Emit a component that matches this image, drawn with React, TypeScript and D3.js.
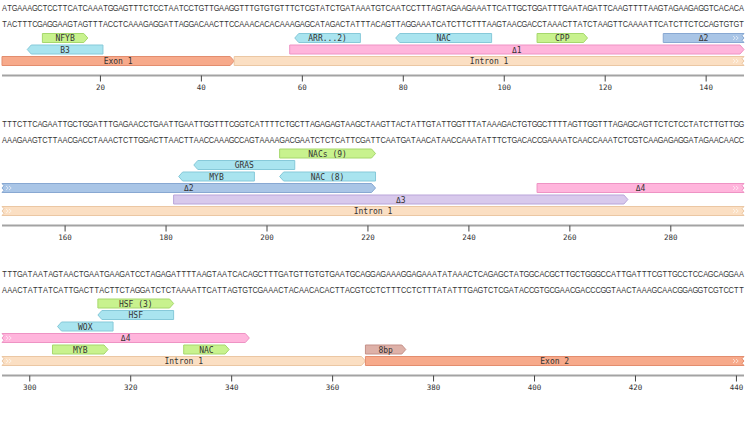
import React from 'react';
import * as d3 from 'd3';

// ---- data ----
const ROW_STARTS = [1, 148, 295];
const ROW_LEN = 147;
const SEQ_ROWS = [
  'ATGAAAGCTCCTTCATCAAATGGAGTTTCTCCTAATCCTGTTGAAGGTTTGTGTGTTTCTCGTATCTGATAAATGTCAATCCTTTAGTAGAAGAAATTCATTGCTGGATTTGAATAGATTCAAGTTTTAAGTAGAAGAGGTCACACA',
  'TTTCTTCAGAATTGCTGGATTTGAGAACCTGAATTGAATTGGTTTCGGTCATTTTCTGCTTAGAGAGTAAGCTAAGTTACTATTGTATTGGTTTATAAAGACTGTGGCTTTTAGTTGGTTTAGAGCAGTTCTCTCCTATCTTGTTGG',
  'TTTGATAATAGTAACTGAATGAAGATCCTAGAGATTTTAAGTAATCACAGCTTTGATGTTGTGTGAATGCAGGAGAAAGGAGAAATATAAACTCAGAGCTATGGCACGCTTGCTGGGCCATTGATTTCGTTGCCTCCAGCAGGAA',
];
const TICKS = [20, 40, 60, 80, 100, 120, 140, 160, 180, 200, 220, 240, 260, 280, 300, 320, 340, 360, 380, 400, 420, 440];

// id, label, start, end, strand, kind
const FEATURES: [string, string, number, number, number, string][] = [
  ['exon1', 'Exon 1', 1, 46, 1, 'exon'],
  ['intron1', 'Intron 1', 47, 366, 1, 'intron'],
  ['exon2', 'Exon 2', 367, 441, 1, 'exon'],
  ['bp8', '8bp', 367, 374, 1, 'misc'],
  ['nfyb', 'NFYB', 9, 17, 1, 'tfPlus'],
  ['b3', 'B3', 6, 20, -1, 'tfMinus'],
  ['arr', 'ARR...2)', 59, 71, -1, 'tfMinus'],
  ['nac1', 'NAC', 79, 97, -1, 'tfMinus'],
  ['cpp', 'CPP', 107, 116, 1, 'tfPlus'],
  ['d1', 'Δ1', 58, 147, 1, 'delPink'],
  ['d2', 'Δ2', 132, 221, 1, 'delBlue'],
  ['nacs9', 'NACs (9)', 203, 221, 1, 'tfPlus'],
  ['gras', 'GRAS', 186, 205, -1, 'tfMinus'],
  ['myb1', 'MYB', 183, 197, -1, 'tfMinus'],
  ['nac8', 'NAC (8)', 203, 221, -1, 'tfMinus'],
  ['d3', 'Δ3', 182, 271, 1, 'delPurple'],
  ['d4', 'Δ4', 254, 343, 1, 'delPink'],
  ['hsf3', 'HSF (3)', 314, 328, 1, 'tfPlus'],
  ['hsf', 'HSF', 314, 328, -1, 'tfMinus'],
  ['wox', 'WOX', 306, 316, -1, 'tfMinus'],
  ['myb2', 'MYB', 305, 315, 1, 'tfPlus'],
  ['nac2', 'NAC', 331, 339, 1, 'tfPlus'],
];
const OPEN_END = ['exon2'];

// ---- layout ----
const LANES: Record<string, (number | null)[]> = {
  nfyb: [0, null, null], arr: [0, null, null], nac1: [0, null, null], cpp: [0, null, null],
  d2: [0, 3, null], b3: [1, null, null], d1: [1, null, null],
  exon1: [2, null, null], intron1: [2, 5, 5],
  nacs9: [null, 0, null], gras: [null, 1, null], myb1: [null, 2, null], nac8: [null, 2, null],
  d4: [null, 3, 3], d3: [null, 4, null],
  hsf3: [null, null, 0], hsf: [null, null, 1], wox: [null, null, 2],
  myb2: [null, null, 4], nac2: [null, null, 4], bp8: [null, null, 4], exon2: [null, null, 5],
};
const ROW_LANES = [3, 6, 6];
const STYLES: Record<string, { fill: string; stroke: string }> = {
  exon: { fill: '#f7aa8b', stroke: '#e38d6e' },
  intron: { fill: '#fbdfc3', stroke: '#ebc7a3' },
  misc: { fill: '#deb1a8', stroke: '#c49088' },
  tfPlus: { fill: '#c8f28e', stroke: '#a6d86c' },
  tfMinus: { fill: '#a9e4ef', stroke: '#86c9d9' },
  delPink: { fill: '#ffb5dc', stroke: '#ee93c4' },
  delBlue: { fill: '#a9c5e6', stroke: '#88a8d2' },
  delPurple: { fill: '#d8c9ec', stroke: '#b9a5d9' },
};

const W = 749, H = 429;
const X0 = 2, X1 = 744;
const LANE0 = 30, LANE_STEP = 11.5, FH = 9, AW = 4;
const MONO = '"DejaVu Sans Mono", monospace';
const SEQ_SX = 0.78;

const COMP: Record<string, string> = { A: 'T', T: 'A', G: 'C', C: 'G' };
const complement = (s: string) => s.split('').map((c) => COMP[c] || c).join('');

function featurePath(x0: number, x1: number, yc: number, strand: number, cutL: boolean, cutR: boolean) {
  const t = yc - FH / 2, b = yc + FH / 2;
  const p = d3.path();
  if (cutL) {
    p.moveTo(x0, b);
    p.lineTo(x0 + 2, b - 2.25);
    p.lineTo(x0, yc);
    p.lineTo(x0 + 2, t + 2.25);
    p.lineTo(x0, t);
  } else if (strand < 0) {
    p.moveTo(x0 + AW, b);
    p.lineTo(x0, yc);
    p.lineTo(x0 + AW, t);
  } else {
    p.moveTo(x0, b);
    p.lineTo(x0, t);
  }
  if (cutR) {
    p.lineTo(x1, t);
    p.lineTo(x1 - 2, t + 2.25);
    p.lineTo(x1, yc);
    p.lineTo(x1 - 2, b - 2.25);
    p.lineTo(x1, b);
  } else if (strand > 0) {
    p.lineTo(x1 - AW, t);
    p.lineTo(x1, yc);
    p.lineTo(x1 - AW, b);
  } else {
    p.lineTo(x1, t);
    p.lineTo(x1, b);
  }
  p.closePath();
  return p.toString();
}

function chevrons(x: number, yc: number) {
  const p = d3.path();
  for (const dx of [0, 3]) {
    p.moveTo(x + dx, yc - 2);
    p.lineTo(x + dx + 2.2, yc);
    p.lineTo(x + dx, yc + 2);
  }
  return p.toString();
}

function SeqLine({ seq, y, x }: { seq: string; y: number; x: d3.ScaleLinear<number, number> }) {
  // glyph centres follow the base scale; stretched evenly over the row
  const n = seq.length;
  const step = ROW_LEN / n;
  const d0 = x.domain()[0];
  const xs = seq.split('').map((_, i) => (x(d0 + (i + 0.5) * step) / SEQ_SX).toFixed(2)).join(' ');
  return (
    <text transform={`scale(${SEQ_SX},1)`} x={xs} y={y} textAnchor="middle" dominantBaseline="central"
      fontFamily='"Liberation Sans", Arial, sans-serif' fontSize={9.5} fill="#333">{seq}</text>
  );
}

export default function App() {
  const rowTops: number[] = [];
  let T = 8;
  ROW_STARTS.forEach((_, r) => {
    rowTops.push(T);
    const lastLane = T + LANE0 + (ROW_LANES[r] - 1) * LANE_STEP;
    const axisY = lastLane + 14.5;
    T = axisY + 12 + 36;
  });

  return (
    <svg width={W} height={H} style={{ position: 'absolute', left: 0, top: 0, background: '#fff' }}>
      {ROW_STARTS.map((rs, r) => {
        const T0 = rowTops[r];
        const re = rs + ROW_LEN - 1;
        const x = d3.scaleLinear().domain([rs, rs + ROW_LEN]).range([X0, X1]);
        const lastLane = T0 + LANE0 + (ROW_LANES[r] - 1) * LANE_STEP;
        const axisY = lastLane + 14.5;
        const seq = SEQ_ROWS[r];
        return (
          <g key={r}>
            <SeqLine seq={seq} y={T0} x={x} />
            <SeqLine seq={complement(seq)} y={T0 + 16} x={x} />
            {FEATURES.map(([id, label, fs, fe, strand, kind]) => {
              const lane = LANES[id]?.[r];
              if (lane == null) return null;
              const s = Math.max(fs, rs), e = Math.min(fe, re);
              if (s > e) return null;
              const cutL = fs < rs;
              const cutR = fe > re || (OPEN_END.includes(id) && fe === re);
              const x0 = x(s), x1 = x(e + 1);
              const yc = T0 + LANE0 + lane * LANE_STEP;
              const st = STYLES[kind];
              return (
                <g key={id}>
                  <path d={featurePath(x0, x1, yc, strand, cutL, cutR)} fill={st.fill} stroke={st.stroke} strokeWidth={1} />
                  {cutL && <path d={chevrons(x0 + 4, yc)} fill="none" stroke="#fff" strokeOpacity={0.75} strokeWidth={0.8} />}
                  {cutR && <path d={chevrons(x1 - 11, yc)} fill="none" stroke="#fff" strokeOpacity={0.75} strokeWidth={0.8} />}
                  <text x={(x0 + x1) / 2} y={yc + 0.5} textAnchor="middle" dominantBaseline="central"
                    fontFamily={MONO} fontSize={8} fill="#333">{label}</text>
                </g>
              );
            })}
            <line x1={X0} x2={X1} y1={axisY} y2={axisY} stroke="#a3a3a3" strokeWidth={2} />
            {TICKS.filter((t) => t >= rs && t <= re).map((t) => (
              <g key={t}>
                <line x1={x(t + 0.5)} x2={x(t + 0.5)} y1={axisY} y2={axisY + 6} stroke="#444" strokeWidth={1} />
                <text x={x(t + 0.5)} y={axisY + 12} textAnchor="middle" dominantBaseline="central"
                  fontFamily={MONO} fontSize={7.5} fill="#333">{t}</text>
              </g>
            ))}
          </g>
        );
      })}
    </svg>
  );
}
